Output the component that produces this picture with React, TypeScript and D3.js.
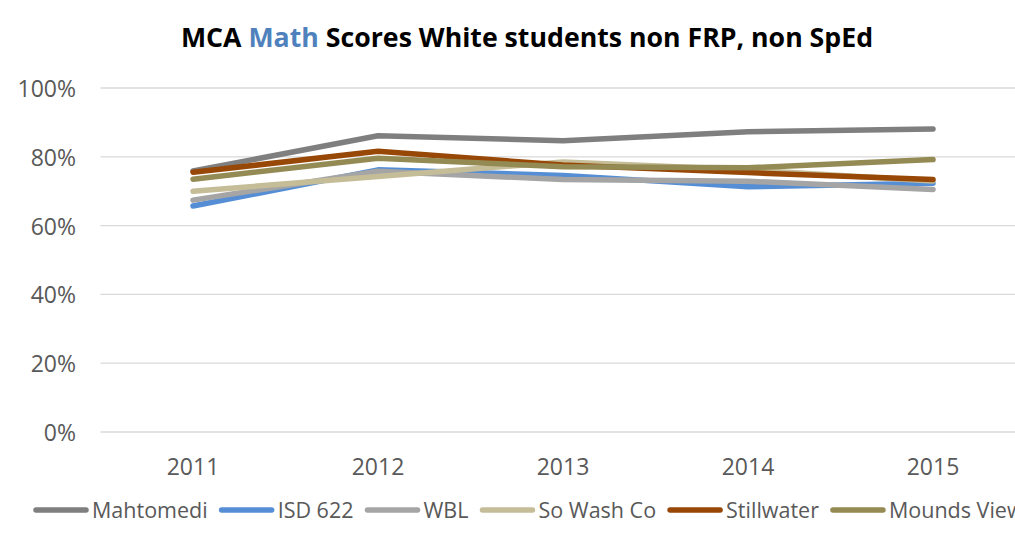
import React, { useEffect, useRef } from "react";
import * as d3 from "d3";

const years = ["2011", "2012", "2013", "2014", "2015"];
const seriesNames = ["Mahtomedi", "ISD 622", "WBL", "So Wash Co", "Stillwater", "Mounds View"];
const mahtomedi = [75.9, 86.1, 84.7, 87.3, 88.1];
const isd622 = [65.7, 76.2, 74.6, 71.3, 72.3];
const wbl = [67.4, 75.8, 73.4, 72.9, 70.5];
const soWashCo = [70.0, 74.3, 78.5, 76.2, 73.0];
const stillwater = [75.5, 81.6, 77.6, 75.4, 73.4];
const moundsView = [73.5, 79.6, 77.1, 76.8, 79.2];
const seriesValues = [mahtomedi, isd622, wbl, soWashCo, stillwater, moundsView];
const colors = ["#7f7f7f", "#558ed5", "#a5a5a5", "#c4bd97", "#974706", "#948a54"];
const yTicks = [0, 20, 40, 60, 80, 100];

const W = 1015;
const H = 539;

export default function App() {
  const ref = useRef<SVGSVGElement>(null);
  useEffect(() => {
    const svg = d3.select(ref.current);
    svg.selectAll("*").remove();
    const font = "Open Sans, sans-serif";
    const plotLeft = 100.5;
    const bandW = 185;
    const x = d3.scalePoint<string>().domain(years).range([plotLeft + bandW / 2, plotLeft + bandW * 4.5]);
    const y = d3.scaleLinear().domain([0, 100]).range([432, 88]);

    // title
    const title = svg.append("text").attr("x", 527).attr("y", 47).attr("text-anchor", "middle")
      .attr("font-family", font).attr("font-weight", "bold").attr("font-size", 26.7).attr("fill", "#000");
    title.append("tspan").text("MCA ");
    title.append("tspan").attr("fill", "#4f81bd").text("Math");
    title.append("tspan").text(" Scores White students non FRP, non SpEd");

    // gridlines
    svg.append("g").selectAll("line").data(yTicks).join("line")
      .attr("x1", plotLeft).attr("x2", plotLeft + bandW * 5)
      .attr("y1", d => y(d)).attr("y2", d => y(d))
      .attr("stroke", "#d9d9d9").attr("stroke-width", 1.3);

    svg.append("g").selectAll("text").data(yTicks).join("text")
      .attr("x", 76).attr("y", d => y(d) + 9).attr("text-anchor", "end")
      .attr("font-family", font).attr("font-size", 23).attr("fill", "#595959")
      .text(d => d + "%");

    svg.append("g").selectAll("text").data(years).join("text")
      .attr("x", d => x(d)!).attr("y", 475).attr("text-anchor", "middle")
      .attr("font-family", font).attr("font-size", 23).attr("fill", "#595959")
      .text(d => d);

    const line = d3.line<number>().x((_, i) => x(years[i])!).y(d => y(d));
    svg.append("g").selectAll("path").data(seriesValues).join("path")
      .attr("d", d => line(d)).attr("fill", "none")
      .attr("stroke", (_, i) => colors[i]).attr("stroke-width", 5.5)
      .attr("stroke-linecap", "round").attr("stroke-linejoin", "round");

    // legend
    const lg = svg.append("g");
    let cx = 33;
    seriesNames.forEach((name, i) => {
      lg.append("line").attr("x1", cx + 3).attr("x2", cx + 53).attr("y1", 510).attr("y2", 510)
        .attr("stroke", colors[i]).attr("stroke-width", 5.5).attr("stroke-linecap", "round");
      const t = lg.append("text").attr("x", cx + 59).attr("y", 518)
        .attr("font-family", font).attr("font-size", 21.5).attr("fill", "#595959").text(name);
      const w = (t.node() as SVGTextElement).getComputedTextLength();
      cx = cx + 59 + w + 11;
    });
  }, []);
  return (
    <svg ref={ref} width={W} height={H} style={{ position: "absolute", left: 0, top: 0, background: "#fff" }} />
  );
}
